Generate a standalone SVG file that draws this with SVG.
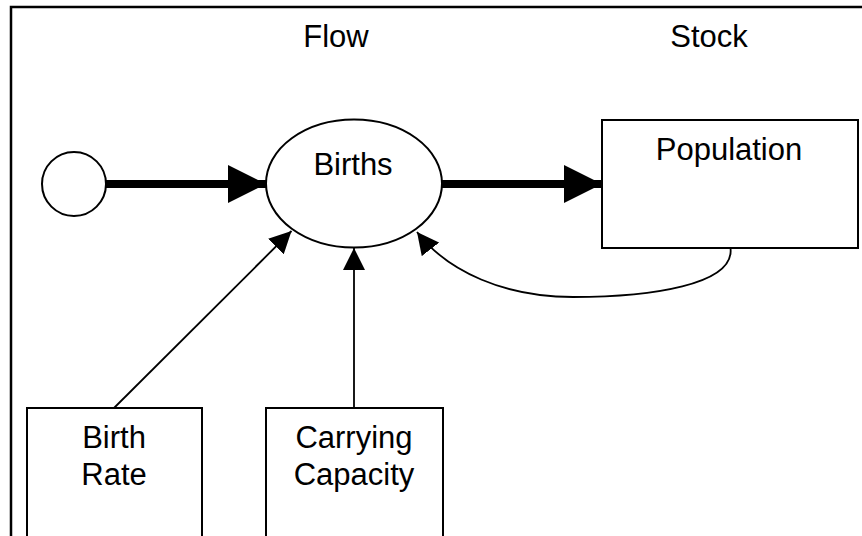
<svg xmlns="http://www.w3.org/2000/svg" width="862" height="536" viewBox="0 0 862 536">
<style>
  .shape { fill: #ffffff; stroke: #000000; stroke-width: 2; }
  .label { font-family: "Liberation Sans", Arial, sans-serif; font-size: 31px; fill: #000000; text-anchor: middle; }
  .thin { fill: none; stroke: #000000; stroke-width: 1.8; }
  .thick { fill: none; stroke: #000000; stroke-width: 8; }
</style>
<defs>
  <marker id="thinArrow" markerUnits="userSpaceOnUse" markerWidth="22" markerHeight="22" viewBox="0 0 20 20" refX="20" refY="10" orient="auto">
    <path d="M0,0 L20,10 L0,20 z" fill="#000000"/>
  </marker>
  <marker id="thickArrow" markerUnits="userSpaceOnUse" markerWidth="38" markerHeight="38" viewBox="0 0 36 36" refX="36" refY="18" orient="auto">
    <path d="M0,0 L36,18 L0,36 z" fill="#000000"/>
  </marker>
</defs>
<rect x="11" y="7" width="880" height="560" fill="#ffffff" stroke="#000000" stroke-width="2.5"/>
<text class="label" x="336" y="47">Flow</text>
<text class="label" x="709" y="47">Stock</text>
<g id="connectors">
  <line class="thick" x1="106" y1="184" x2="266" y2="184" marker-end="url(#thickArrow)"/>
  <line class="thick" x1="442" y1="184" x2="602" y2="184" marker-end="url(#thickArrow)"/>
  <line class="thin" x1="114" y1="408" x2="291.5" y2="231" marker-end="url(#thinArrow)"/>
  <line class="thin" x1="354" y1="408" x2="354" y2="248" marker-end="url(#thinArrow)"/>
  <path class="thin" d="M730.5,248 C735,285 650,297 573,297 C505,297 448,272 417,232" marker-end="url(#thinArrow)"/>
</g>
<g id="source">
  <circle class="shape" cx="74" cy="184" r="32"/>
</g>
<g id="births">
  <ellipse class="shape" cx="354" cy="183.5" rx="88" ry="64"/>
  <text class="label" x="353" y="175">Births</text>
</g>
<g id="population">
  <rect class="shape" x="602" y="120" width="256" height="128"/>
  <text class="label" x="729" y="160">Population</text>
</g>
<g id="birth-rate">
  <rect class="shape" x="27" y="408" width="175" height="140"/>
  <text class="label" x="114" y="448">Birth</text>
  <text class="label" x="114" y="485">Rate</text>
</g>
<g id="carrying-capacity">
  <rect class="shape" x="266" y="408" width="177" height="140"/>
  <text class="label" x="354" y="448">Carrying</text>
  <text class="label" x="354" y="485">Capacity</text>
</g>
</svg>
